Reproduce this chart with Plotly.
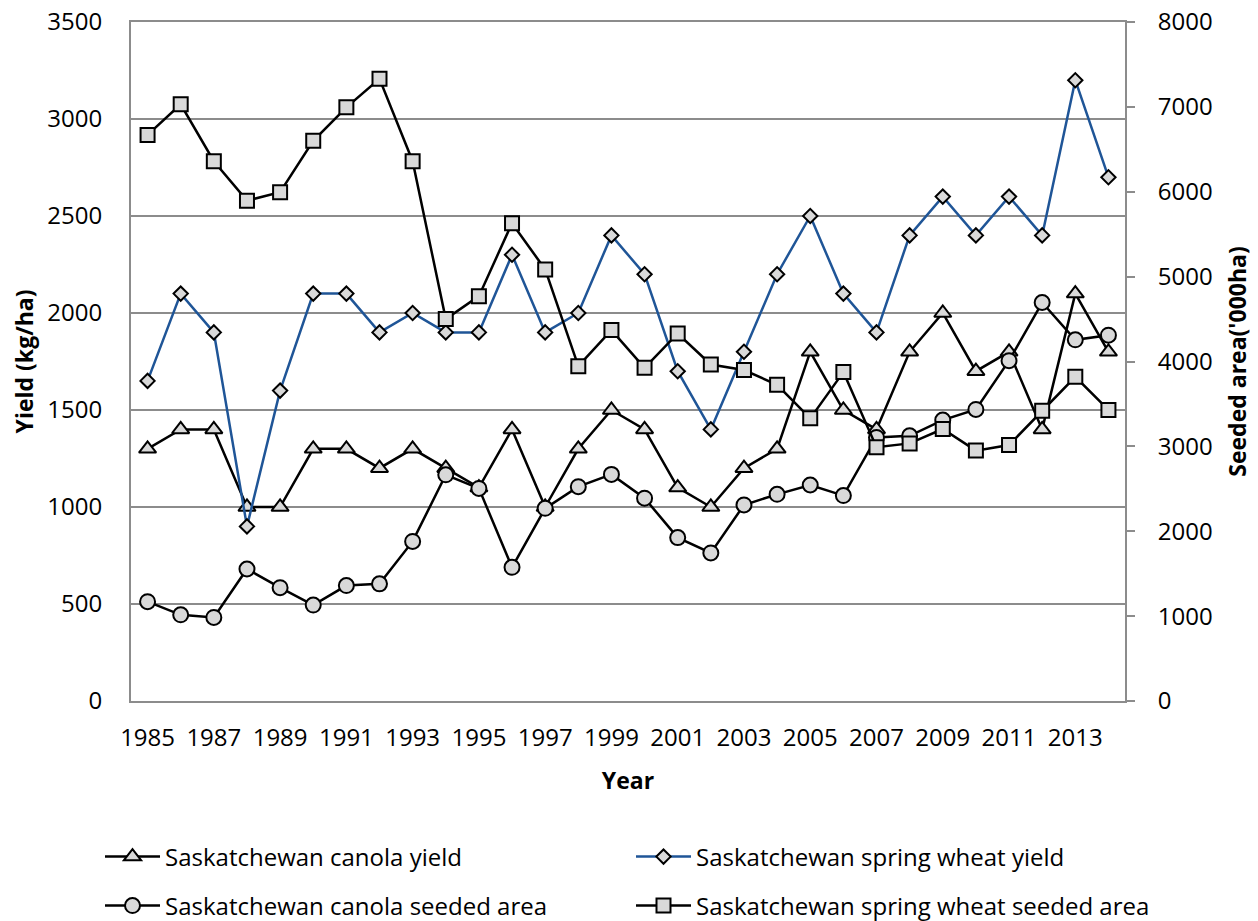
import plotly.graph_objects as go

years = [1985, 1986, 1987, 1988, 1989, 1990, 1991, 1992, 1993, 1994,
         1995, 1996, 1997, 1998, 1999, 2000, 2001, 2002, 2003, 2004,
         2005, 2006, 2007, 2008, 2009, 2010, 2011, 2012, 2013, 2014]

canola_yield = [1300, 1400, 1400, 1000, 1000, 1300, 1300, 1200, 1300, 1200,
                1100, 1400, 1000, 1300, 1500, 1400, 1100, 1000, 1200, 1300,
                1800, 1500, 1400, 1800, 2000, 1700, 1800, 1400, 2100, 1800]

wheat_yield = [1650, 2100, 1900, 900, 1600, 2100, 2100, 1900, 2000, 1900,
               1900, 2300, 1900, 2000, 2400, 2200, 1700, 1400, 1800, 2200,
               2500, 2100, 1900, 2400, 2600, 2400, 2600, 2400, 3200, 2700]

canola_area = [1170, 1015, 985, 1555, 1335, 1130, 1360, 1380, 1880, 2665,
               2505, 1575, 2270, 2525, 2670, 2390, 1925, 1745, 2310, 2435,
               2545, 2420, 3105, 3125, 3310, 3435, 4010, 4695, 4255, 4310]

wheat_area = [6670, 7030, 6360, 5895, 5995, 6600, 6995, 7330, 6360, 4500,
              4770, 5630, 5085, 3945, 4370, 3925, 4330, 3965, 3900, 3725,
              3330, 3875, 2990, 3035, 3205, 2950, 3015, 3420, 3820, 3430]

x_tick_years = [1985, 1987, 1989, 1991, 1993, 1995, 1997, 1999, 2001,
                2003, 2005, 2007, 2009, 2011, 2013]

names = ["Saskatchewan canola yield", "Saskatchewan spring wheat yield",
         "Saskatchewan canola seeded area", "Saskatchewan spring wheat seeded area"]

FONT = "Open Sans"
FILL = "#D9D9D9"
GRID = "#8C8C8C"
BLUE = "#1F5597"

fig = go.Figure()

fig.add_trace(go.Scatter(
    x=years, y=canola_yield, name=names[0], mode="lines+markers",
    line=dict(color="black", width=2.5),
    marker=dict(symbol="triangle-up", size=15, color=FILL, line=dict(color="black", width=2)),
    legend="legend", yaxis="y"))
fig.add_trace(go.Scatter(
    x=years, y=wheat_yield, name=names[1], mode="lines+markers",
    line=dict(color=BLUE, width=2.5),
    marker=dict(symbol="diamond", size=11, color=FILL, line=dict(color="black", width=2)),
    legend="legend2", yaxis="y"))
fig.add_trace(go.Scatter(
    x=years, y=canola_area, name=names[2], mode="lines+markers",
    line=dict(color="black", width=2.5),
    marker=dict(symbol="circle", size=15, color=FILL, line=dict(color="black", width=2)),
    legend="legend3", yaxis="y2"))
fig.add_trace(go.Scatter(
    x=years, y=wheat_area, name=names[3], mode="lines+markers",
    line=dict(color="black", width=2.5),
    marker=dict(symbol="square", size=14, color=FILL, line=dict(color="black", width=2)),
    legend="legend4", yaxis="y2"))

# page has an 8px body margin; figure origin sits at page (8, 8)
OFF = 8
W, H = 1258, 921
PL, PR, PT, PB = 131, 1125, 22, 701          # plot box in page pixels
L = PL - OFF
T = PT - OFF
pw = PR - PL
ph = PB - PT
R = W - L - pw
B = H - T - ph

def px_x(px):
    return (px - PL) / pw

def px_y(py):
    return (PB - py) / ph

leg_font = dict(family=FONT, size=24, color="black")
leg_common = dict(font=leg_font, bgcolor="rgba(0,0,0,0)", borderwidth=0,
                  xanchor="left", yanchor="middle", itemwidth=55)

fig.update_layout(
    width=W, height=H,
    margin=dict(l=L, r=R, t=T, b=B, autoexpand=False),
    paper_bgcolor="white", plot_bgcolor="white",
    font=dict(family=FONT, size=24, color="black"),
    showlegend=True,
    legend=dict(x=px_x(100), y=px_y(857), **leg_common),
    legend2=dict(x=px_x(631), y=px_y(857), **leg_common),
    legend3=dict(x=px_x(100), y=px_y(906), **leg_common),
    legend4=dict(x=px_x(631), y=px_y(906), **leg_common),
    xaxis=dict(
        range=[1984.5, 2014.5], tickmode="array", tickvals=x_tick_years,
        ticktext=[str(v) for v in x_tick_years],
        showgrid=False, zeroline=False, showline=True, mirror=True,
        linecolor=GRID, linewidth=2,
        ticks="", ticklabelstandoff=14, ticklabeloverflow="allow",
        tickfont=dict(family=FONT, size=24, color="black"),
        title=dict(text="<b>Year</b>", font=dict(family=FONT, size=23, color="black"), standoff=21),
    ),
    yaxis=dict(
        range=[0, 3500], dtick=500, tick0=0,
        showgrid=True, gridcolor=GRID, gridwidth=2, zeroline=False,
        showline=True, linecolor=GRID, linewidth=2, ticks="",
        ticklabelstandoff=22, ticklabeloverflow="allow",
        tickfont=dict(family=FONT, size=24, color="black"),
        title=dict(text="<b>Yield (kg/ha)</b>", font=dict(family=FONT, size=23, color="black"), standoff=7),
    ),
    yaxis2=dict(
        range=[0, 8000], dtick=1000, tick0=0, overlaying="y", side="right",
        showgrid=False, zeroline=False, showline=True, linecolor=GRID, linewidth=2,
        ticks="outside", ticklen=8, tickwidth=2, tickcolor=GRID,
        ticklabelstandoff=18, ticklabeloverflow="allow",
        tickfont=dict(family=FONT, size=24, color="black"),
        title=dict(text="<b>Seeded area('000ha)</b>", font=dict(family=FONT, size=23, color="black"), standoff=18),
    ),
)

fig.write_html("out.html")
